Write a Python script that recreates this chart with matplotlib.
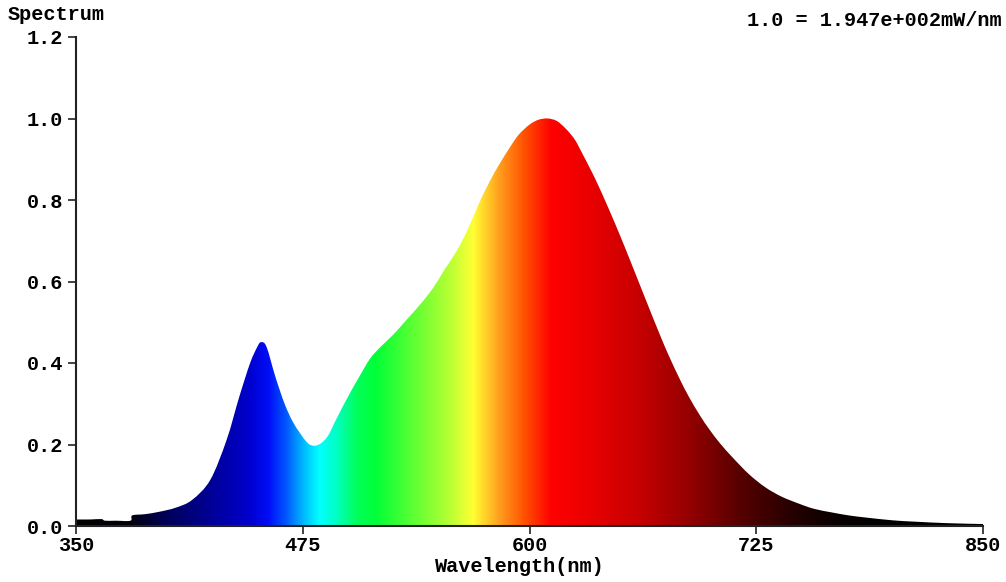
import numpy as np
import matplotlib
matplotlib.use("Agg")
import matplotlib.pyplot as plt
from matplotlib.colors import LinearSegmentedColormap
from matplotlib.patches import PathPatch
from matplotlib.path import Path

# ---- data ----
wavelength = [350, 358, 364, 366, 372, 380, 381, 388, 396, 405, 414, 424, 433, 440, 446,
              450, 452, 455, 460, 465, 470, 477, 481, 485, 489, 493, 500, 506, 512, 518,
              525, 532, 540, 547, 553, 560, 566, 572, 578, 583, 589, 594, 600, 605, 610,
              615, 620, 625, 629, 634, 638, 644, 650, 655, 661, 666, 672, 677, 683, 688,
              694, 699, 705, 712, 721, 730, 739, 749, 757, 767, 776, 785, 800, 813, 830,
              848, 850]
intensity = [0.016, 0.016, 0.017, 0.013, 0.013, 0.013, 0.026, 0.029, 0.035, 0.045, 0.064,
             0.113, 0.211, 0.317, 0.400, 0.440, 0.451, 0.440, 0.365, 0.300, 0.252, 0.207,
             0.197, 0.203, 0.222, 0.258, 0.318, 0.365, 0.410, 0.440, 0.470, 0.505, 0.545,
             0.585, 0.628, 0.676, 0.728, 0.790, 0.845, 0.885, 0.928, 0.960, 0.985, 0.997,
             1.000, 0.994, 0.975, 0.948, 0.915, 0.872, 0.835, 0.775, 0.712, 0.657, 0.590,
             0.534, 0.468, 0.416, 0.359, 0.316, 0.271, 0.238, 0.203, 0.168, 0.127, 0.095,
             0.072, 0.054, 0.042, 0.033, 0.026, 0.021, 0.014, 0.0105, 0.007, 0.005, 0.005]
x_ticks = [350, 475, 600, 725, 850]
y_ticks = [0.0, 0.2, 0.4, 0.6, 0.8, 1.0, 1.2]
title_left = "Spectrum"
title_right = "1.0 = 1.947e+002mW/nm"
x_label = "Wavelength(nm)"

# ---- spectral colour stops (style) ----
stops_nm = [350, 380, 400, 420, 445, 456, 466, 476, 484, 493, 505, 515, 538, 556, 569,
            583, 598, 612, 630, 660, 688, 715, 743, 767, 790, 850]
stops_rgb = [(0, 0, 0), (0, 0, 0.05), (0, 0, 0.35), (0, 0, 0.55), (0, 0, 0.8),
             (0, 0.05, 0.97), (0, 0.35, 1), (0, 0.75, 1), (0, 1, 1), (0, 1, 0.78),
             (0, 1, 0.35), (0, 1, 0.22), (0.4, 1, 0.2), (0.72, 1, 0.2), (1, 1, 0.2),
             (1, 0.63, 0.12), (1, 0.3, 0), (1, 0, 0), (0.93, 0, 0), (0.78, 0, 0),
             (0.58, 0, 0), (0.35, 0, 0), (0.16, 0, 0), (0.04, 0, 0), (0, 0, 0), (0, 0, 0)]
lo, hi = stops_nm[0], stops_nm[-1]
cmap = LinearSegmentedColormap.from_list(
    "spec", [((s - lo) / (hi - lo), c) for s, c in zip(stops_nm, stops_rgb)], N=1024)

font = dict(family="Liberation Mono", weight="bold", size=14.6)

fig = plt.figure(figsize=(10.06, 5.82), dpi=100)
ax = fig.add_axes([76 / 1006, 56 / 582, (983 - 76) / 1006, (526 - 37) / 582])
ax.set_xlim(350, 850)
ax.set_ylim(0, 1.2)

grad = np.linspace(0, 1, 1024).reshape(1, -1)
im = ax.imshow(grad, cmap=cmap, extent=(350, 850, 0, 1.2), aspect="auto",
               interpolation="bilinear", origin="lower", zorder=1)

# smooth outline (Bezier segments passing through every read point)
P = np.column_stack([wavelength, intensity]).astype(float)
n = len(P)
verts = [P[0]]
codes = [Path.MOVETO]
for i in range(n - 1):
    p0 = P[max(i - 1, 0)]
    p1 = P[i]
    p2 = P[i + 1]
    p3 = P[min(i + 2, n - 1)]
    c1 = p1 + (p2 - p0) / 6.0
    c2 = p2 - (p3 - p1) / 6.0
    verts += [c1, c2, p2]
    codes += [Path.CURVE4] * 3
verts += [(P[-1, 0], 0.0), (P[0, 0], 0.0), P[0]]
codes += [Path.LINETO, Path.LINETO, Path.CLOSEPOLY]
outline = PathPatch(Path(verts, codes), facecolor="none", edgecolor="none",
                    transform=ax.transData)
ax.add_patch(outline)
im.set_clip_path(outline)

for s in ["top", "right"]:
    ax.spines[s].set_visible(False)
for s in ["left", "bottom"]:
    ax.spines[s].set_linewidth(1.5)
    ax.spines[s].set_color("#222222")
    ax.spines[s].set_zorder(3)

ax.set_xticks(x_ticks)
ax.set_xticklabels([str(t) for t in x_ticks], fontdict=font)
ax.set_yticks(y_ticks)
ax.set_yticklabels([f"{t:.1f}" for t in y_ticks], fontdict=font)
ax.tick_params(axis="both", direction="out", length=6, width=1.2, color="#222222")
ax.tick_params(axis="y", pad=3)
ax.tick_params(axis="x", pad=1)

fig.text(8 / 1006, 1 - 14 / 582, title_left, ha="left", va="center", **font)
fig.text(1002 / 1006, 1 - 20 / 582, title_right, ha="right", va="center", **font)
fig.text(520 / 1006, 1 - 566 / 582, x_label, ha="center", va="center", **font)

fig.savefig("out.png", dpi=100, facecolor="white")
